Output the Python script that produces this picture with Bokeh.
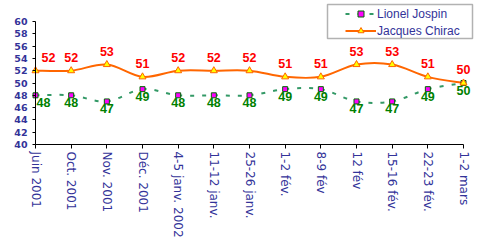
from bokeh.plotting import figure
from bokeh.models import Range1d, FixedTicker, Legend, LegendItem, BoxAnnotation
from bokeh.core.properties import value
from bokeh.embed import file_html
from bokeh.resources import INLINE

categories = ["Juin 2001", "Oct. 2001", "Nov. 2001", "Déc. 2001", "4-5 janv. 2002",
              "11-12 janv.", "25-26 janv.", "1-2 fév.", "8-9 fév", "12 fév",
              "15-16 fév.", "22-23 fév.", "1-2 mars"]
jospin = [48, 48, 47, 49, 48, 48, 48, 49, 49, 47, 47, 49, 50]
chirac = [52, 52, 53, 51, 52, 52, 52, 51, 51, 53, 53, 51, 50]
y_ticks = list(range(40, 61, 2))

NAVY = "#333399"
ORANGE = "#FF6600"
GREEN_LINE = "#339966"

W, H = 485, 244
xs = list(range(len(categories)))
n = len(categories)

# layout: the category axis runs from px 35 to px 463, value axis 60 at px 21 and 40 at px 144
px_per_x = (463 - 35) / (n - 1)
px_per_y = (144 - 21) / 20.0
x_range = Range1d(0 - 35 / px_per_x, (n - 1) + (W - 463) / px_per_x)
y_range = Range1d(40 - (H - 144) / px_per_y, 60 + 21 / px_per_y)

p = figure(width=W, height=H, output_backend="svg", toolbar_location=None,
           x_range=x_range, y_range=y_range,
           min_border_left=0, min_border_right=0, min_border_top=0, min_border_bottom=0)
p.background_fill_color = "white"
p.border_fill_color = "white"
p.outline_line_color = None
p.xgrid.visible = False
p.ygrid.visible = False


def smooth(xv, yv):
    m = len(xv)
    seg = dict(x0=[], y0=[], x1=[], y1=[], cx0=[], cy0=[], cx1=[], cy1=[])
    for i in range(m - 1):
        i0 = max(i - 1, 0)
        i3 = min(i + 2, m - 1)
        seg["x0"].append(xv[i]); seg["y0"].append(yv[i])
        seg["x1"].append(xv[i + 1]); seg["y1"].append(yv[i + 1])
        seg["cx0"].append(xv[i] + (xv[i + 1] - xv[i0]) / 6)
        seg["cy0"].append(yv[i] + (yv[i + 1] - yv[i0]) / 6)
        seg["cx1"].append(xv[i + 1] - (xv[i3] - xv[i]) / 6)
        seg["cy1"].append(yv[i + 1] - (yv[i3] - yv[i]) / 6)
    return seg


p.bezier(**smooth(xs, jospin), line_color=GREEN_LINE, line_width=2, line_dash="4 8")
p.bezier(**smooth(xs, chirac), line_color=ORANGE, line_width=2)

jm = p.scatter(xs, jospin, marker="square", size=5, fill_color="#FF00FF", line_color="#006600", line_width=1)
cm = p.scatter(xs, chirac, marker="triangle", size=7, fill_color="#FFFF00", line_color=ORANGE, line_width=1)

# line renderers used only for the legend swatches (a single undefined point draws nothing)
nan = float("nan")
jl = p.line(x=[nan], y=[nan], line_color=GREEN_LINE, line_width=2, line_dash="4 8")
cl = p.line(x=[nan], y=[nan], line_color=ORANGE, line_width=2)

lab_font = value("Liberation Sans")
c_off = [13 if i == 0 else 0 for i in xs]
j_off = [8 if i == 0 else 0 for i in xs]
p.text(x=xs, y=chirac, text=[str(v) for v in chirac], x_offset=c_off, y_offset=-9,
       text_align="center", text_baseline="bottom", text_font=lab_font,
       text_font_style="bold", text_font_size="12.5px", text_color="#FF0000")
p.text(x=xs, y=jospin, text=[str(v) for v in jospin], x_offset=j_off, y_offset=3,
       text_align="center", text_baseline="top", text_font=lab_font,
       text_font_style="bold", text_font_size="12.5px", text_color="#008000")

# axes, fixed at the value 40 / category 0
p.xaxis.fixed_location = 40
p.xaxis.bounds = (0, n - 1)
p.xaxis.ticker = FixedTicker(ticks=xs)
p.xaxis.major_label_overrides = {i: c for i, c in enumerate(categories)}
p.xaxis.major_label_orientation = "vertical"
p.xaxis.major_label_text_font = "DejaVu Sans"
p.xaxis.major_label_text_font_size = "12px"
p.xaxis.major_label_text_color = NAVY
p.xaxis.major_tick_out = 4
p.xaxis.major_tick_in = 0
p.xaxis.minor_tick_out = 0
p.xaxis.minor_tick_in = 0
p.xaxis.major_label_standoff = 3
p.xaxis.axis_line_color = "black"
p.xaxis.major_tick_line_color = "black"

p.yaxis.fixed_location = 0
p.yaxis.bounds = (40, 60)
p.yaxis.ticker = FixedTicker(ticks=y_ticks)
p.yaxis.major_label_text_font = "DejaVu Sans"
p.yaxis.major_label_text_font_style = "bold"
p.yaxis.major_label_text_font_size = "9.5px"
p.yaxis.major_label_text_color = NAVY
p.yaxis.major_tick_out = 3
p.yaxis.major_tick_in = 0
p.yaxis.minor_tick_out = 0
p.yaxis.minor_tick_in = 0
p.yaxis.major_label_standoff = 5
p.yaxis.axis_line_color = "black"
p.yaxis.major_tick_line_color = "black"

# legend frame (screen units from the bottom-left corner of the frame)
box = BoxAnnotation(left=327, right=472, top=H - 4, bottom=H - 38,
                    left_units="screen", right_units="screen", top_units="screen", bottom_units="screen",
                    fill_color="white", fill_alpha=1, line_color="black", line_width=1.5)
p.add_layout(box)

legend = Legend(items=[LegendItem(label="Lionel Jospin", renderers=[jl, jm]),
                       LegendItem(label="Jacques Chirac", renderers=[cl, cm])],
                location=(344, H - 39), orientation="vertical",
                padding=1, margin=0, spacing=2, glyph_width=31, glyph_height=15,
                label_height=15, label_standoff=1,
                label_text_font="Liberation Sans", label_text_font_size="12px",
                label_text_color=NAVY, border_line_alpha=0, background_fill_alpha=0)
p.add_layout(legend)

open("out.html", "w").write(file_html(p, INLINE))
